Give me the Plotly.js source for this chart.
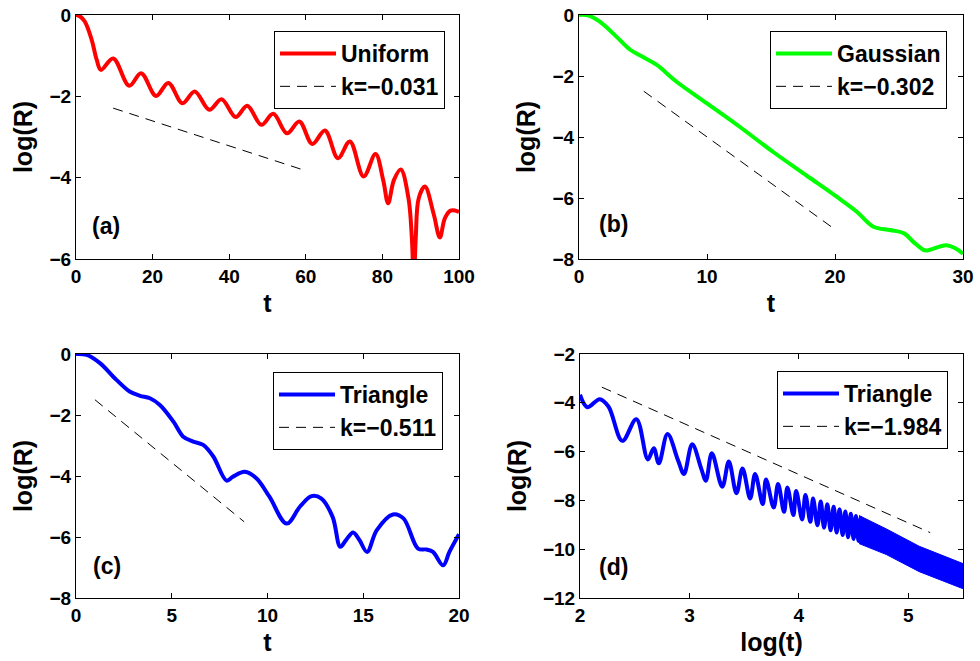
<!DOCTYPE html>
<html>
<head>
<meta charset="utf-8">
<script src="https://cdn.plot.ly/plotly-3.0.1.min.js"></script>
<style>html,body{margin:0;padding:0;background:#fff;}#chart{width:980px;height:661px;}</style>
</head>
<body>
<div id="chart"></div>
<script>
// ---- Panel (a): Uniform ----
var tA = [0, 1.0, 2.3, 4.1, 5.4, 6.5, 9.7, 13.9, 17.0, 20.9, 24.1, 27.8, 31.0, 34.8, 38.0, 41.7, 44.7, 48.4, 51.5, 55.1, 58.3, 61.7, 65.0, 68.4, 71.5, 75.1, 78.2, 80.2, 81.5, 83.0, 84.8, 86.8, 87.7, 88.2, 88.7, 89.5, 91.1, 93.4, 95.0, 96.3, 97.8, 100];
var yA = [0, -0.03, -0.16, -0.61, -1.1, -1.35, -1.07, -1.74, -1.43, -1.99, -1.67, -2.17, -1.88, -2.33, -2.07, -2.51, -2.23, -2.70, -2.43, -2.91, -2.62, -3.17, -2.84, -3.52, -3.11, -3.97, -3.42, -4.06, -4.63, -4.06, -3.80, -4.5, -5.5, -6.6, -5.5, -4.5, -4.22, -4.9, -5.47, -5.0, -4.81, -4.84];
var dashAx = [9.7, 60];
var dashAy = [-2.29, -3.83];

// ---- Panel (b): Gaussian ----
var tB = [0, 0.7, 1.6, 2.9, 4.0, 5.0, 6.05, 7.6, 10, 12.6, 15.2, 17.8, 20.1, 21.7, 23.0, 24.3, 25.4, 26.1, 26.9, 27.2, 28.2, 28.7, 29.4, 30];
var yB = [0, -0.01, -0.21, -0.7, -1.14, -1.38, -1.63, -2.18, -2.9, -3.68, -4.5, -5.27, -5.95, -6.45, -6.94, -7.05, -7.16, -7.43, -7.70, -7.72, -7.59, -7.55, -7.65, -7.83];
var dashBx = [5.06, 19.8];
var dashBy = [-2.5, -6.97];

// ---- Panel (c): Triangle ----
var tC = [0, 0.56, 1.25, 2.1, 2.8, 3.34, 3.86, 4.38, 5.08, 5.6, 6.12, 6.64, 7.17, 7.86, 8.2, 8.82, 9.43, 10.1, 11.0, 11.7, 12.3, 12.8, 13.4, 13.8, 14.1, 14.47, 14.8, 15.2, 15.7, 16.55, 17.1, 17.86, 18.3, 18.64, 19.17, 19.5, 20];
var yC = [0, -0.03, -0.3, -0.84, -1.23, -1.37, -1.45, -1.67, -2.21, -2.71, -2.87, -2.98, -3.36, -4.15, -4.02, -3.86, -4.08, -4.68, -5.56, -5.0, -4.66, -4.73, -5.34, -6.32, -6.1, -5.85, -6.1, -6.49, -5.78, -5.26, -5.39, -6.38, -6.41, -6.49, -6.93, -6.49, -5.91];
var dashCx = [0.99, 8.78];
var dashCy = [-1.5, -5.5];

// ---- Panel (d): Triangle, log-log ----
var xD = [2.0, 2.067, 2.18, 2.26, 2.387, 2.515, 2.62, 2.674, 2.72, 2.80, 2.897, 2.95, 3.025, 3.11, 3.15, 3.205, 3.30, 3.36, 3.43, 3.485, 3.555, 3.60, 3.67, 3.70, 3.77, 3.81, 3.865, 3.895, 3.95, 3.975, 4.03, 4.06, 4.105, 4.13, 4.17, 4.20, 4.23, 4.26, 4.29, 4.318, 4.345, 4.372, 4.40, 4.425, 4.45, 4.475, 4.50, 4.522, 4.545, 4.566, 4.588];
var yD = [-3.67, -4.18, -3.85, -4.15, -5.56, -4.67, -6.32, -5.86, -6.48, -5.28, -6.37, -6.92, -5.70, -6.73, -7.19, -6.07, -7.44, -6.41, -7.71, -6.69, -7.92, -6.92, -8.15, -7.14, -8.29, -7.33, -8.47, -7.47, -8.60, -7.61, -8.78, -7.78, -8.88, -7.92, -9.02, -8.05, -9.12, -8.16, -9.22, -8.26, -9.32, -8.36, -9.42, -8.46, -9.51, -8.55, -9.58, -8.64, -9.66, -8.72, -9.74];
var bandX = [4.55, 4.8, 5.1, 5.5];
var bandTop = [-8.62, -9.17, -9.88, -10.59];
var bandBottom = [-9.77, -10.22, -10.92, -11.62];
var dashDx = [2.2, 5.2];
var dashDy = [-3.36, -9.32];

// ---- labels ----
var seriesNames = ['Uniform', 'Gaussian', 'Triangle', 'Triangle'];
var slopeLabels = ['k=\u22120.031', 'k=\u22120.302', 'k=\u22120.511', 'k=\u22121.984'];
var panelLabels = ['(a)', '(b)', '(c)', '(d)'];
var xTitles = ['t', 't', 't', 'log(t)'];
var yTitle = 'log(R)';

var FONT = 'Liberation Sans, Arial, Helvetica, sans-serif';
var colors = ['#ff0000', '#00ff00', '#0000ff', '#0000ff'];

function curve(x, y, i) {
  return {x: x, y: y, type: 'scatter', mode: 'lines', name: seriesNames[i],
    line: {color: colors[i], width: 4, shape: 'spline', smoothing: 1},
    xaxis: 'x' + (i ? i + 1 : ''), yaxis: 'y' + (i ? i + 1 : ''),
    legend: 'legend' + (i ? i + 1 : ''), hoverinfo: 'skip'};
}
function dashed(x, y, i) {
  return {x: x, y: y, type: 'scatter', mode: 'lines', name: slopeLabels[i],
    line: {color: '#000000', width: 1, dash: '10px,7px'},
    xaxis: 'x' + (i ? i + 1 : ''), yaxis: 'y' + (i ? i + 1 : ''),
    legend: 'legend' + (i ? i + 1 : ''), hoverinfo: 'skip'};
}

var bandPolyX = bandX.concat(bandX.slice().reverse());
var bandPolyY = bandTop.concat(bandBottom.slice().reverse());

var data = [
  curve(tA, yA, 0), dashed(dashAx, dashAy, 0),
  curve(tB, yB, 1), dashed(dashBx, dashBy, 1),
  curve(tC, yC, 2), dashed(dashCx, dashCy, 2),
  {x: bandPolyX, y: bandPolyY, type: 'scatter', mode: 'lines', fill: 'toself',
   fillcolor: '#0000ff', line: {color: '#0000ff', width: 1}, showlegend: false,
   xaxis: 'x4', yaxis: 'y4', hoverinfo: 'skip'},
  curve(xD, yD, 3), dashed(dashDx, dashDy, 3)
];

var W = 980, H = 661;
function dx(a, b) { return [a / W, b / W]; }
function dy(top, bottom) { return [1 - bottom / H, 1 - top / H]; }

function xax(dom, range, dtick, title, anchor) {
  return {domain: dom, range: range, dtick: dtick, tick0: 0, anchor: anchor,
    showline: true, linecolor: '#000', linewidth: 1, mirror: 'ticks',
    ticks: 'inside', ticklen: 5, tickwidth: 1, tickcolor: '#000',
    showgrid: false, zeroline: false, fixedrange: true,
    tickfont: {family: FONT, size: 19, color: '#000', weight: 'bold'},
    title: {text: title, font: {family: FONT, size: 25, color: '#000', weight: 'bold'}, standoff: 8}};
}
function yax(dom, range, dtick, anchor) {
  return {domain: dom, range: range, dtick: dtick, tick0: 0, anchor: anchor,
    showline: true, linecolor: '#000', linewidth: 1, mirror: 'ticks',
    ticks: 'inside', ticklen: 5, tickwidth: 1, tickcolor: '#000',
    showgrid: false, zeroline: false, fixedrange: true,
    tickfont: {family: FONT, size: 19, color: '#000', weight: 'bold'},
    title: {text: yTitle, font: {family: FONT, size: 25, color: '#000', weight: 'bold'}, standoff: 9}};
}
function leg(xpx, ypx) {
  return {x: xpx / W, y: 1 - ypx / H, xanchor: 'left', yanchor: 'top',
    bgcolor: '#fff', bordercolor: '#000', borderwidth: 1, itemwidth: 56,
    font: {family: FONT, size: 23, color: '#000', weight: 'bold'}, tracegroupgap: 0};
}

var xA = dx(76, 459), xB = dx(579, 963);
var yTop = dy(15, 259), yBot = dy(354, 598);

var panelPos = [[0.037, 0.135], [0.047, 0.143], [0.038, 0.132], [0.044, 0.128]];
var annotations = panelLabels.map(function (lab, i) {
  var s = i ? String(i + 1) : '';
  return {text: lab, xref: 'x' + s + ' domain', yref: 'y' + s + ' domain',
    x: panelPos[i][0], y: panelPos[i][1], xanchor: 'left', yanchor: 'middle',
    showarrow: false, font: {family: FONT, size: 23, color: '#000', weight: 'bold'}};
});

var layout = {
  width: W, height: H, margin: {l: 0, r: 0, t: 0, b: 0},
  paper_bgcolor: '#fff', plot_bgcolor: '#fff', showlegend: true,
  xaxis: xax(xA, [0, 100], 20, xTitles[0], 'y'),
  yaxis: yax(yTop, [-6, 0], 2, 'x'),
  xaxis2: xax(xB, [0, 30], 10, xTitles[1], 'y2'),
  yaxis2: yax(yTop, [-8, 0], 2, 'x2'),
  xaxis3: xax(xA, [0, 20], 5, xTitles[2], 'y3'),
  yaxis3: yax(yBot, [-8, 0], 2, 'x3'),
  xaxis4: xax(dx(580, 963), [2, 5.5], 1, xTitles[3], 'y4'),
  yaxis4: yax(yBot, [-12, -2], 2, 'x4'),
  legend: leg(274, 31), legend2: leg(770, 31), legend3: leg(273, 372), legend4: leg(777, 371),
  annotations: annotations
};

Plotly.newPlot('chart', data, layout, {staticPlot: true, displayModeBar: false});
</script>
</body>
</html>
